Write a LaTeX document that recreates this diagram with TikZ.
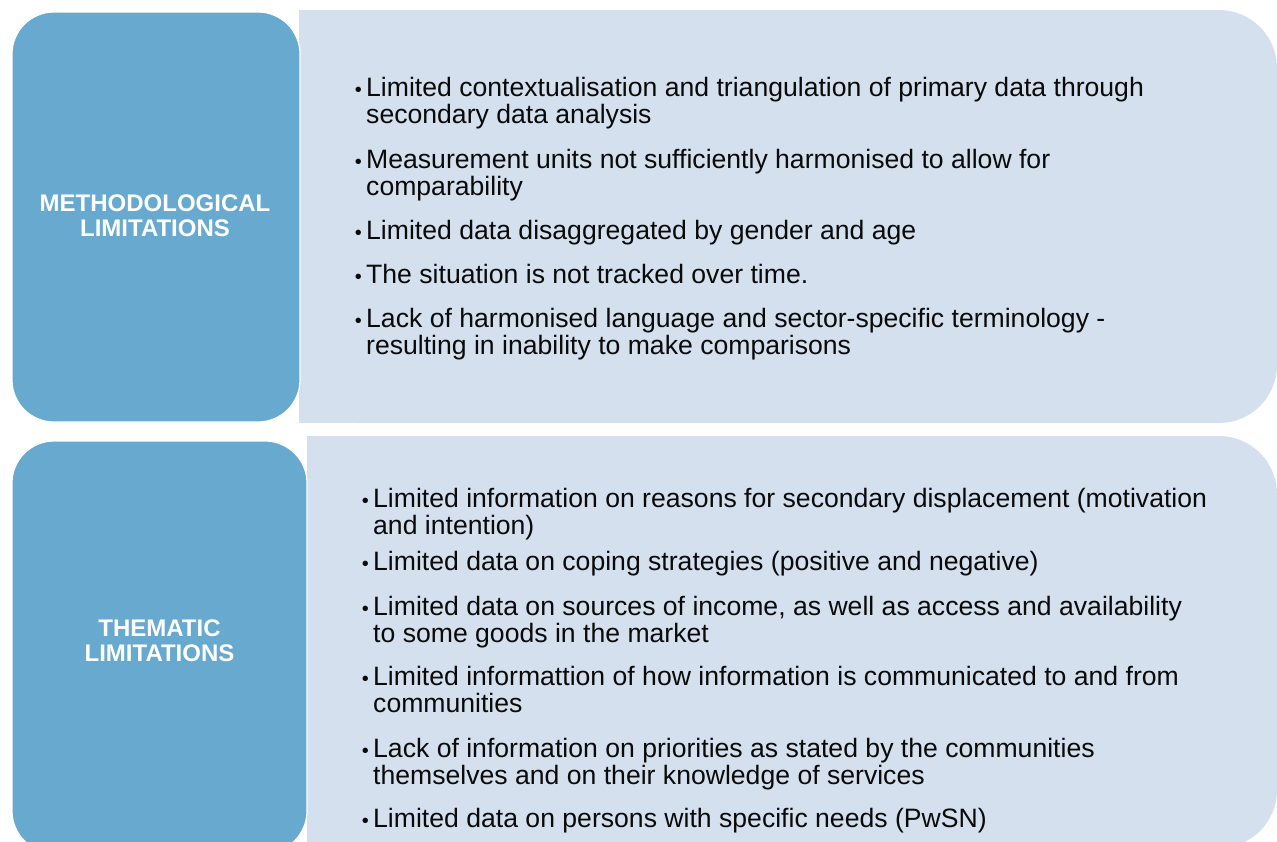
\documentclass[tikz,border=0pt]{standalone}
\usepackage{fontspec}
\setmainfont{Liberation Sans}
\definecolor{hdrblue}{RGB}{104,169,207}
\definecolor{panel}{RGB}{212,224,238}
\definecolor{ink}{RGB}{10,10,10}
\begin{document}
\begin{tikzpicture}[x=1pt,y=-1pt,
  hdrbox/.style={fill=hdrblue,draw=white,line width=1.2pt,rounded corners=42pt},
  hdrtext/.style={text=white,font=\fontsize{24}{25}\selectfont\bfseries,align=center,inner sep=0pt},
  itemtext/.style={text=ink,font=\fontsize{26.6}{27}\selectfont,align=left,inner sep=0pt,anchor=base west},
  bul/.style={text=ink,font=\fontsize{20}{20}\selectfont,inner sep=0pt,anchor=base east}]
\useasboundingbox (0,0) rectangle (1277,841);
\clip (0,0) rectangle (1277,841);
% panels
\fill[panel,rounded corners=58pt] (299,10) rectangle (1277,423);
\fill[panel] (299,10) rectangle (420,423);
\fill[panel,rounded corners=58pt] (307,436) rectangle (1277,848);
\fill[panel] (307,436) rectangle (420,848);
% header boxes
\path[hdrbox] (12,12) rectangle (300,422);
\path[hdrbox] (12,441) rectangle (307,853);
\node[hdrtext] (h1) at (155,216) {METHODOLOGICAL\\LIMITATIONS};
\node[hdrtext] (h2) at (159.5,641) {THEMATIC\\LIMITATIONS};
% methodological items (anchored at the baseline of the last line)
\node[itemtext] (m1) at (366,123) {Limited contextualisation and triangulation of primary data through\\secondary data analysis};
\node[itemtext] (m2) at (366,195) {Measurement units not sufficiently harmonised to allow for\\comparability};
\node[itemtext] (m3) at (366,239) {Limited data disaggregated by gender and age};
\node[itemtext] (m4) at (366,283) {The situation is not tracked over time.};
\node[itemtext] (m5) at (366,354) {Lack of harmonised language and sector-specific terminology -\\resulting in inability to make comparisons};
\node[bul] (bm1) at (362,96) {•};
\node[bul] (bm2) at (362,168) {•};
\node[bul] (bm3) at (362,239) {•};
\node[bul] (bm4) at (362,283) {•};
\node[bul] (bm5) at (362,327) {•};
% thematic items
\node[itemtext] (t1) at (373,534) {Limited information on reasons for secondary displacement (motivation\\and intention)};
\node[itemtext] (t2) at (373,570) {Limited data on coping strategies (positive and negative)};
\node[itemtext] (t3) at (373,642) {Limited data on sources of income, as well as access and availability\\to some goods in the market};
\node[itemtext] (t4) at (373,712) {Limited informattion of how information is communicated to and from\\communities};
\node[itemtext] (t5) at (373,784) {Lack of information on priorities as stated by the communities\\themselves and on their knowledge of services};
\node[itemtext] (t6) at (373,827) {Limited data on persons with specific needs (PwSN)};
\node[bul] (bt1) at (369,507) {•};
\node[bul] (bt2) at (369,570) {•};
\node[bul] (bt3) at (369,615) {•};
\node[bul] (bt4) at (369,685) {•};
\node[bul] (bt5) at (369,757) {•};
\node[bul] (bt6) at (369,827) {•};
\end{tikzpicture}
\end{document}
